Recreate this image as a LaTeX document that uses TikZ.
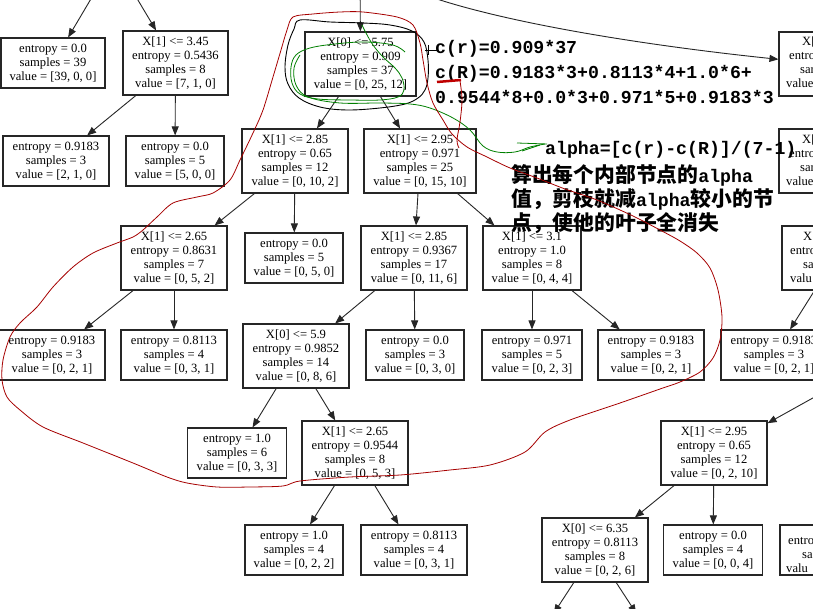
\documentclass[tikz,border=0pt]{standalone}
\usepackage{fontspec}
\setmainfont{Liberation Serif}
\newfontfamily\annmono{Liberation Mono}
\newfontfamily\cjkfam{Noto Sans CJK SC}
\usetikzlibrary{arrows.meta}
\newcommand\tfnt{\fontsize{12.6}{14}\selectfont}
\newcommand\annfont{\annmono\bfseries\fontsize{18.2}{20}\selectfont}
\newcommand\cjkfont{\cjkfam\bfseries\fontsize{20.8}{24}\selectfont}
\tikzset{
  box/.style={draw=black!85, line width=1.1pt, inner sep=0pt, align=center, font=\tfnt},
  leaf/.style={box, minimum height=50pt},
  split/.style={box, minimum height=64pt},
  edge/.style={draw=black!85, line width=0.9pt, -{Triangle[length=9pt,width=7pt]}},
  redpen/.style={draw=red!65!black, line width=0.8pt},
  greenpen/.style={draw=green!50!black, line width=0.8pt},
  blackpen/.style={draw=black, line width=0.9pt},
  ann/.style={anchor=base west, inner sep=0pt},
  frag/.style={anchor=base west, inner sep=0pt, font=\tfnt}
}
\begin{document}
\begin{tikzpicture}[x=1pt,y=-1pt]
\clip (0,0) rectangle (813,609);
\fill[white] (0,0) rectangle (813,609);
% off-canvas parents
\coordinate (pA) at (114,-40);
\coordinate (pR) at (360,-40);
\coordinate (gp) at (425,-5);
\coordinate (pT) at (890,355);
% row 1
\node[leaf, minimum width=104pt] (A) at (53,63) {entropy = 0.0\\samples = 39\\value = [39, 0, 0]};
\node[split, minimum width=105pt] (B) at (175.5,63) {X[1] <= 3.45\\entropy = 0.5436\\samples = 8\\value = [7, 1, 0]};
\node[split, minimum width=111pt] (Root) at (360.5,64) {X[0] <= 5.75\\entropy = 0.909\\samples = 37\\value = [0, 25, 12]};
\node[split, minimum width=106pt] (TR1) at (832,64) {};
% row 2
\node[leaf, minimum width=106pt] (C) at (56,161) {entropy = 0.9183\\samples = 3\\value = [2, 1, 0]};
\node[leaf, minimum width=98pt] (D) at (175,161) {entropy = 0.0\\samples = 5\\value = [5, 0, 0]};
\node[split, minimum width=106pt] (E) at (295,161) {X[1] <= 2.85\\entropy = 0.65\\samples = 12\\value = [0, 10, 2]};
\node[split, minimum width=112pt] (F) at (420,161) {X[1] <= 2.95\\entropy = 0.971\\samples = 25\\value = [0, 15, 10]};
\node[split, minimum width=106pt] (TR2) at (832,161) {};
% row 3
\node[split, minimum width=106pt] (G) at (174,258) {X[1] <= 2.65\\entropy = 0.8631\\samples = 7\\value = [0, 5, 2]};
\node[leaf, minimum width=98pt] (H) at (294,258) {entropy = 0.0\\samples = 5\\value = [0, 5, 0]};
\node[split, minimum width=106pt] (I) at (414,258) {X[1] <= 2.85\\entropy = 0.9367\\samples = 17\\value = [0, 11, 6]};
\node[split, minimum width=98pt] (J) at (532,258) {X[1] <= 3.1\\entropy = 1.0\\samples = 8\\value = [0, 4, 4]};
\node[split, minimum width=106pt] (TR3) at (835,258) {};
% row 4
\node[leaf, minimum width=106pt] (K) at (52,355) {entropy = 0.9183\\samples = 3\\value = [0, 2, 1]};
\node[leaf, minimum width=106pt] (L) at (174,355) {entropy = 0.8113\\samples = 4\\value = [0, 3, 1]};
\node[split, minimum width=106pt] (M) at (296,356) {X[0] <= 5.9\\entropy = 0.9852\\samples = 14\\value = [0, 8, 6]};
\node[leaf, minimum width=98pt] (N) at (415,355) {entropy = 0.0\\samples = 3\\value = [0, 3, 0]};
\node[leaf, minimum width=100pt] (O) at (532,355) {entropy = 0.971\\samples = 5\\value = [0, 2, 3]};
\node[leaf, minimum width=106pt] (P) at (651,355) {entropy = 0.9183\\samples = 3\\value = [0, 2, 1]};
\node[leaf, minimum width=106pt] (Q) at (774,355) {entropy = 0.9183\\samples = 3\\value = [0, 2, 1]};
% row 5
\node[leaf, minimum width=99pt] (R) at (237,453) {entropy = 1.0\\samples = 6\\value = [0, 3, 3]};
\node[split, minimum width=106pt] (S) at (355,453) {X[1] <= 2.65\\entropy = 0.9544\\samples = 8\\value = [0, 5, 3]};
\node[split, minimum width=106pt] (T) at (714,453) {X[1] <= 2.95\\entropy = 0.65\\samples = 12\\value = [0, 2, 10]};
% row 6
\node[leaf, minimum width=98pt] (V) at (294,550) {entropy = 1.0\\samples = 4\\value = [0, 2, 2]};
\node[leaf, minimum width=106pt] (W) at (414,550) {entropy = 0.8113\\samples = 4\\value = [0, 3, 1]};
\node[split, minimum width=106pt] (X) at (595,550) {X[0] <= 6.35\\entropy = 0.8113\\samples = 8\\value = [0, 2, 6]};
\node[leaf, minimum width=99pt] (Y) at (713,550) {entropy = 0.0\\samples = 4\\value = [0, 0, 4]};
\node[leaf, minimum width=106pt] (Z) at (833,550) {};
\node[leaf, minimum width=100pt] (X1) at (537,639) {};
\node[leaf, minimum width=100pt] (X2) at (653,639) {};
% fragments of cut-off boxes
\node[frag] at (802,46) {X[};
\node[frag] at (789,60) {entro};
\node[frag] at (800,74) {sar};
\node[frag] at (786,88) {value};
\node[frag] at (802,144) {X[};
\node[frag] at (789,158) {entro};
\node[frag] at (800,172) {sar};
\node[frag] at (786,186) {value};
\node[frag] at (803,241) {X};
\node[frag] at (790,255) {entro};
\node[frag] at (803,269) {sar};
\node[frag] at (790,283) {valu};
\node[frag] at (788,544) {entro};
\node[frag] at (802,558) {sa};
\node[frag] at (786,572) {valu};
% edges
\draw[edge] (pA) -- (A);
\draw[edge] (pA) -- (B);
\draw[edge] (pR) -- (Root);
\draw[edge] (gp) .. controls (510,25) and (660,47) .. (TR1.175);
\draw[edge] (B) -- (C);
\draw[edge] (B) -- (D);
\draw[edge] (Root) -- (E);
\draw[edge] (Root) -- (F);
\draw[edge] (E) -- (G);
\draw[edge] (E) -- (H);
\draw[edge] (F) -- (I);
\draw[edge] (F) -- (J);
\draw[edge] (G) -- (K);
\draw[edge] (G) -- (L);
\draw[edge] (I) -- (M);
\draw[edge] (I) -- (N);
\draw[edge] (J) -- (O);
\draw[edge] (J) -- (P);
\draw[edge] (TR3) -- (Q);
\draw[edge] (M) -- (R);
\draw[edge] (M) -- (S);
\draw[edge] (pT) -- (T);
\draw[edge] (S) -- (V);
\draw[edge] (S) -- (W);
\draw[edge] (T) -- (X);
\draw[edge] (T) -- (Y);
\draw[edge] (X) -- (X1);
\draw[edge] (X) -- (X2);
% annotation text
\node[ann] (t1) at (435,54) {\annfont c(r)=0.909*37};
\node[ann] (t2) at (435,79) {\annfont c(R)=0.9183*3+0.8113*4+1.0*6+};
\node[ann] (t3) at (435,104) {\annfont 0.9544*8+0.0*3+0.971*5+0.9183*3};
\node[ann] (t4) at (545,155) {\annfont alpha=[c(r)-c(R)]/(7-1)};
\node[ann] (t5) at (511,183) {\cjkfont 算出每个内部节点的\annfont alpha};
\node[ann] (t6) at (511,207) {\cjkfont 值，剪枝就减\annfont alpha\cjkfont 较小的节};
\node[ann] (t7) at (511,231) {\cjkfont 点，使他的叶子全消失};
% black pen loop
\draw[blackpen] plot[smooth cycle, tension=0.6] coordinates {(300,20) (330,22) (363,23) (390,25) (412,31) (424,42) (428,60) (428,78) (425,90) (418,98) (405,104) (380,108) (347,110) (320,107) (299,98) (288,84) (285,67) (288,45) (294,29)};
\draw[blackpen] (425,50) -- (437,50);
\draw[blackpen] (428,45) -- (428,55);
% green pen
\draw[greenpen] plot[smooth, tension=0.6] coordinates {(362,25) (366,33) (373,45) (383,57) (395,68) (402,78) (404,90) (398,97) (380,100) (350,100) (318,99) (300,94) (292,83) (291,67) (296,55) (310,48) (335,44) (365,42) (393,45) (405,52)};
\draw[greenpen] plot[smooth, tension=0.6] coordinates {(300,55) (294,68) (296,85) (308,97) (340,103) (380,103) (410,104) (430,108) (453,118) (470,130) (483,146) (497,152) (515,152) (530,147) (545,144)};
\draw[greenpen] (517,143) -- (547,144);
\draw[greenpen] (522,151) -- (540,145);
% red pen
\draw[redpen] plot[smooth cycle, tension=0.5] coordinates {(293,17) (313,14) (340,12) (363,12) (397,17) (413,25) (420,43) (423,60) (427,83) (433,103) (443,120) (452,134) (467,147) (487,157) (510,168) (537,178) (565,189) (597,200) (633,216) (660,230) (680,241) (697,253) (710,268) (718,290) (722,317) (720,340) (713,358) (700,372) (680,382) (660,389) (620,403) (570,420) (545,432) (525,452) (490,465) (450,470) (400,475) (350,477) (300,481) (283,486) (250,487) (217,487) (187,483) (167,477) (133,463) (83,443) (43,427) (20,410) (7,397) (2,380) (3,360) (10,337) (20,323) (37,307) (53,287) (73,267) (93,253) (117,243) (133,237) (143,230) (157,217) (173,203) (197,197) (213,193) (230,180) (240,160) (253,133) (263,110) (273,77) (281,50) (287,30)};
\draw[red!75!black, line width=2.5pt] (437,82) -- (461,80);
\draw[redpen] plot[smooth, tension=0.6] coordinates {(460,81) (462,100) (460,122) (457,140) (459,148)};
\end{tikzpicture}
\end{document}
